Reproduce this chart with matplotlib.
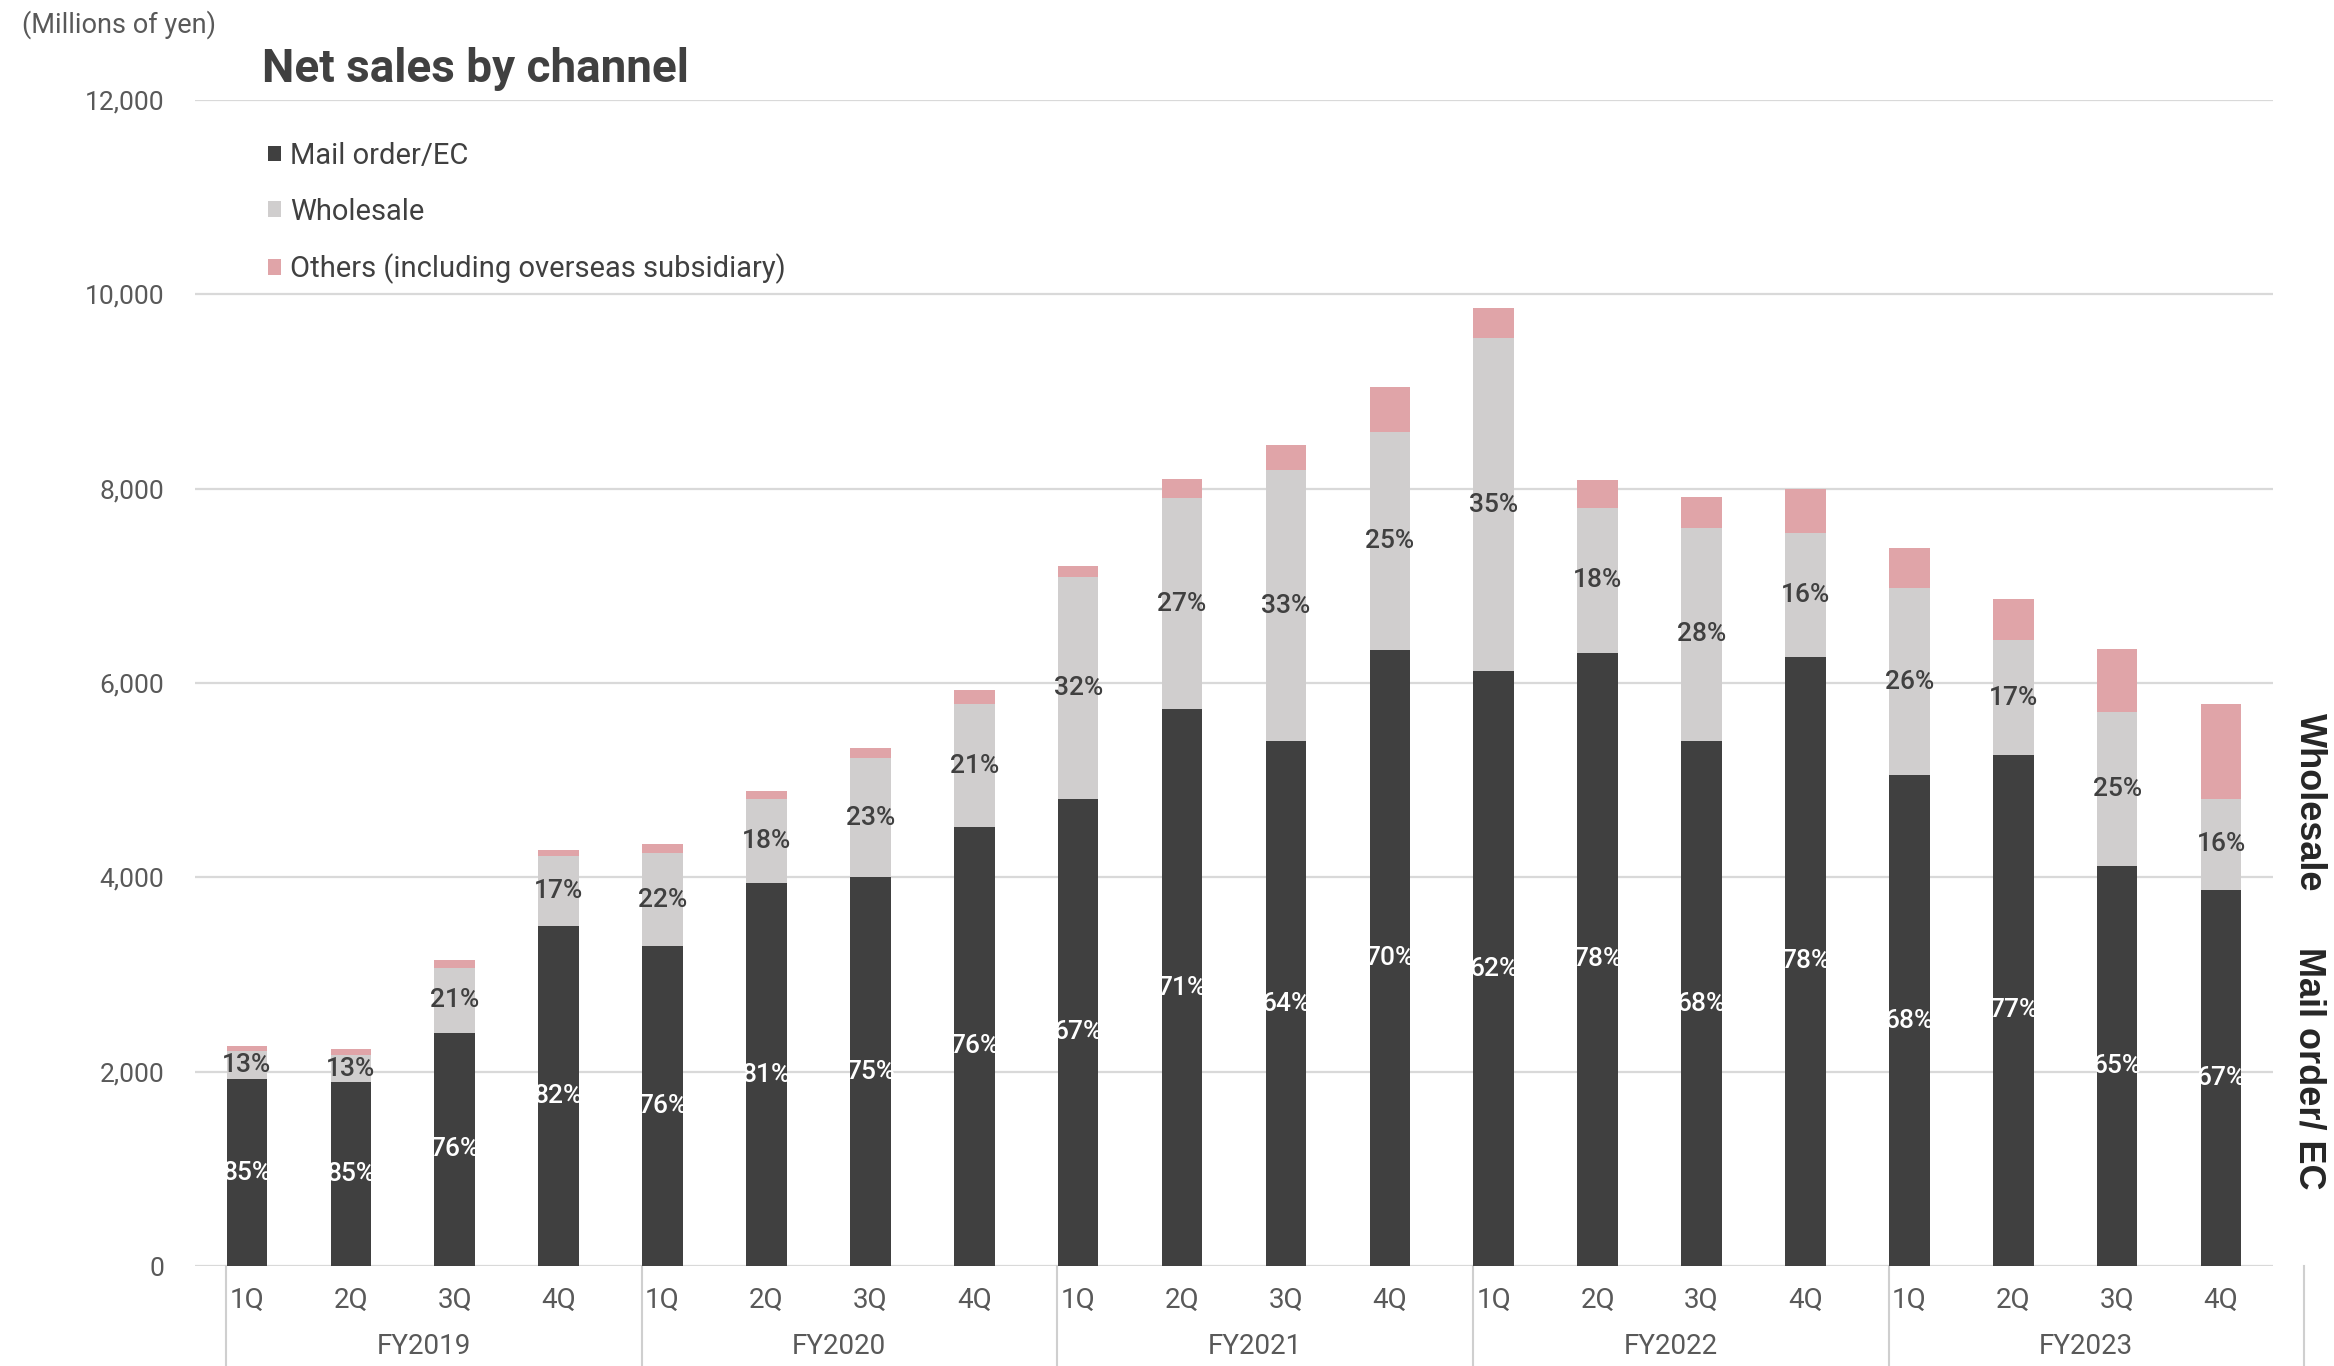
import numpy as np
import matplotlib.pyplot as plt

# quarterly net sales by channel (millions of yen)
quarters = ['1Q', '2Q', '3Q', '4Q'] * 5
years = ['FY2019', 'FY2020', 'FY2021', 'FY2022', 'FY2023']
mail_ec = [1920, 1890, 2400, 3500, 3290, 3940, 4000, 4520, 4810, 5730,
           5400, 6340, 6120, 6310, 5400, 6270, 5050, 5260, 4120, 3870]
wholesale = [290, 285, 670, 720, 960, 870, 1230, 1260, 2280, 2170,
             2790, 2240, 3430, 1490, 2200, 1270, 1925, 1180, 1580, 940]
others = [55, 60, 80, 60, 90, 80, 100, 145, 110, 200,
          260, 470, 305, 290, 310, 460, 410, 420, 650, 970]
labels = ['Mail order/EC', 'Wholesale', 'Others (including overseas subsidiary)']

c_mail = '#404040'
c_whole = '#d0cece'
c_other = '#e0a4a8'
c_grid = '#d9d9d9'
c_text = '#595959'

plt.rcParams['font.family'] = ['Roboto', 'DejaVu Sans']

W, H = 2334, 1366
fig = plt.figure(figsize=(W / 100, H / 100), dpi=100)
ax = fig.add_axes([195 / W, 100 / H, (2273 - 195) / W, 1166 / H])

x = np.arange(len(quarters))
m = np.array(mail_ec)
w = np.array(wholesale)
o = np.array(others)
total = m + w + o

bw = 0.39
b1 = ax.bar(x, m, width=bw, color=c_mail, zorder=3)
b2 = ax.bar(x, w, width=bw, bottom=m, color=c_whole, zorder=3)
b3 = ax.bar(x, o, width=bw, bottom=m + w, color=c_other, zorder=3)

# share labels centred in each segment
for i in range(len(x)):
    pm = int(m[i] / total[i] * 100 + 0.5)
    pw = int(w[i] / total[i] * 100 + 0.5)
    ax.text(x[i], m[i] / 2, f'{pm}%', ha='center', va='center', fontsize=19,
            fontweight='medium', color='white', zorder=4)
    ax.text(x[i], m[i] + w[i] / 2, f'{pw}%', ha='center', va='center', fontsize=19,
            fontweight='medium', color='#404040', zorder=4)

ax.set_xlim(-0.5, len(x) - 0.5)
ax.set_ylim(0, 12000)
yt = list(range(0, 12001, 2000))
ax.set_yticks(yt)
ax.set_yticklabels([f'{v:,}' for v in yt])
ax.set_xticks([])
ax.yaxis.grid(True, color=c_grid, lw=1.6)
ax.set_axisbelow(True)
for s in ax.spines.values():
    s.set_visible(False)
ax.tick_params(axis='y', length=0, pad=22, labelsize=19, labelcolor=c_text)

# two-level category axis
xt = ax.get_xaxis_transform()
for i, q in enumerate(quarters):
    ax.text(x[i], -34 / 1166, q, transform=xt, ha='center', va='center',
            fontsize=20, color=c_text)
for k, yr in enumerate(years):
    ax.text(4 * k + 1.7, -81 / 1166, yr, transform=xt, ha='center', va='center',
            fontsize=20, color=c_text)
for k in range(len(years) + 1):
    ax.plot([4 * k - 0.2] * 2, [0, -0.12], transform=xt, color='#cfcfcf',
            lw=1.5, clip_on=False)

ax.legend([b1, b2, b3], labels, loc='upper left',
          bbox_to_anchor=(268 / W, 1 - 142 / H), bbox_transform=fig.transFigure,
          frameon=False, handlelength=0.45, handleheight=0.45,
          handletextpad=0.3, labelspacing=0.95, borderpad=0, borderaxespad=0,
          labelcolor='#404040', prop={'size': 21})

fig.text(262 / W, 1 - 69 / H, 'Net sales by channel', fontsize=33,
         fontweight='bold', color='#404040', va='center')
fig.text(22 / W, 1 - 25 / H, '(Millions of yen)', fontsize=19.5,
         color=c_text, va='center')

fig.text(2309 / W, 1 - 802 / H, 'Wholesale', rotation=-90, fontsize=26,
         fontweight='bold', family='Liberation Sans', color='#262626',
         ha='center', va='center')
fig.text(2309 / W, 1 - 1068 / H, 'Mail order/ EC', rotation=-90, fontsize=26,
         fontweight='bold', family='Liberation Sans', color='#262626',
         ha='center', va='center')

fig.savefig('out.png', dpi=100)
